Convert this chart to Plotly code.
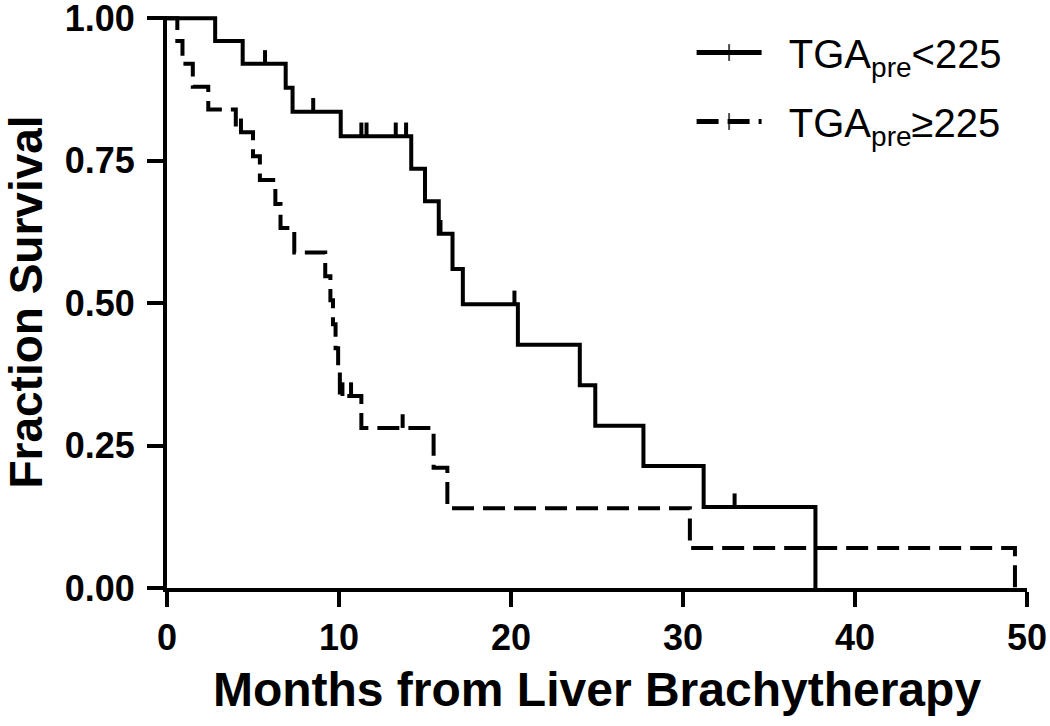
import plotly.graph_objects as go

# TGApre < 225 (solid)
months_lo = [0, 2.8, 4.4, 6.9, 7.3, 10.1, 14.2, 15.0, 15.8, 16.6, 17.2, 20.4, 24.0, 24.9, 27.7, 31.2, 37.7]
surv_lo = [1.0, 0.96, 0.92, 0.878, 0.836, 0.793, 0.736, 0.679, 0.622, 0.56, 0.498, 0.427, 0.356, 0.285, 0.214, 0.142, 0.0]
cens_lo_t = [5.7, 8.5, 11.3, 11.6, 13.3, 13.9, 15.9, 20.2, 33.0]
cens_lo_s = [0.92, 0.836, 0.793, 0.793, 0.793, 0.793, 0.622, 0.498, 0.142]

# TGApre >= 225 (dashed)
months_hi = [0, 0.6, 0.9, 1.5, 2.4, 4.0, 5.0, 5.4, 6.3, 6.6, 7.4, 9.2, 9.5, 9.65, 9.8, 9.95, 10.05, 11.3, 15.5, 16.3, 30.4, 49.3]
surv_hi = [1.0, 0.96, 0.92, 0.88, 0.84, 0.80, 0.758, 0.716, 0.674, 0.632, 0.589, 0.547, 0.505, 0.463, 0.421, 0.379, 0.337, 0.281, 0.211, 0.140, 0.070, 0.0]
cens_hi_t = [4.3, 10.2, 10.7, 13.7]
cens_hi_s = [0.80, 0.337, 0.337, 0.281]

x_ticks = [0, 10, 20, 30, 40, 50]
y_ticks = [0, 0.25, 0.5, 0.75, 1.0]
y_ticktext = ["0.00", "0.25", "0.50", "0.75", "1.00"]

FONT = "Liberation Sans, Arial, sans-serif"
TICK = 0.024

fig = go.Figure()


def add_curve(t, s, ct, cs, name, dash, group):
    fig.add_trace(go.Scatter(
        x=t, y=s, mode="lines+markers", name=name, legendgroup=group,
        line=dict(color="black", width=4, shape="hv", dash=dash),
        marker=dict(symbol="line-ns", size=[0.01] * len(t), color="black",
                    line=dict(width=3, color="black")),
        hoverinfo="skip"))
    fig.add_trace(go.Scatter(
        x=ct, y=cs, mode="markers", showlegend=False, legendgroup=group,
        marker=dict(size=1, color="rgba(0,0,0,0)"),
        error_y=dict(type="data", symmetric=False, array=[TICK] * len(ct),
                     arrayminus=[0] * len(ct), width=0, thickness=4, color="black"),
        hoverinfo="skip"))


add_curve(months_lo, surv_lo, cens_lo_t, cens_lo_s, "&nbsp;&nbsp;TGA<sub>pre</sub>&lt;225", "solid", "a")
add_curve(months_hi, surv_hi, cens_hi_t, cens_hi_s, "&nbsp;&nbsp;TGA<sub>pre</sub>≥225", "22px,9px", "b")

fig.update_layout(
    width=1050, height=726,
    margin=dict(l=167, r=23, t=16, b=138),
    paper_bgcolor="white", plot_bgcolor="white",
    font=dict(family=FONT, color="black"),
    showlegend=True,
    legend=dict(x=0.61, y=0.993, xanchor="left", yanchor="top",
                font=dict(size=40, family=FONT, color="black"),
                itemwidth=65, itemsizing="constant", tracegroupgap=14,
                bgcolor="rgba(0,0,0,0)"),
    xaxis=dict(range=[0, 50], tickvals=x_ticks, showgrid=False, zeroline=False,
               showline=True, linewidth=4, linecolor="black",
               ticks="outside", ticklen=15, tickwidth=4, tickcolor="black",
               automargin=False, ticklabeloverflow="allow",
               tickfont=dict(size=36, family=FONT, weight="bold"),
               title=dict(text="Months from Liver Brachytherapy",
                          font=dict(size=48, family=FONT, weight="bold"), standoff=16)),
    yaxis=dict(range=[0, 1.004], tickvals=y_ticks, ticktext=y_ticktext,
               showgrid=False, zeroline=False,
               showline=True, linewidth=4, linecolor="black",
               ticks="outside", ticklen=16, tickwidth=4, tickcolor="black",
               automargin=False, ticklabeloverflow="allow", ticklabelstandoff=5,
               tickfont=dict(size=36, family=FONT, weight="bold"),
               title=dict(text="Fraction Survival",
                          font=dict(size=46, family=FONT, weight="bold"), standoff=50)),
)

fig.write_html("out.html", config={"displayModeBar": False},
               post_script="document.body.style.margin='0';document.body.style.overflow='hidden';")
